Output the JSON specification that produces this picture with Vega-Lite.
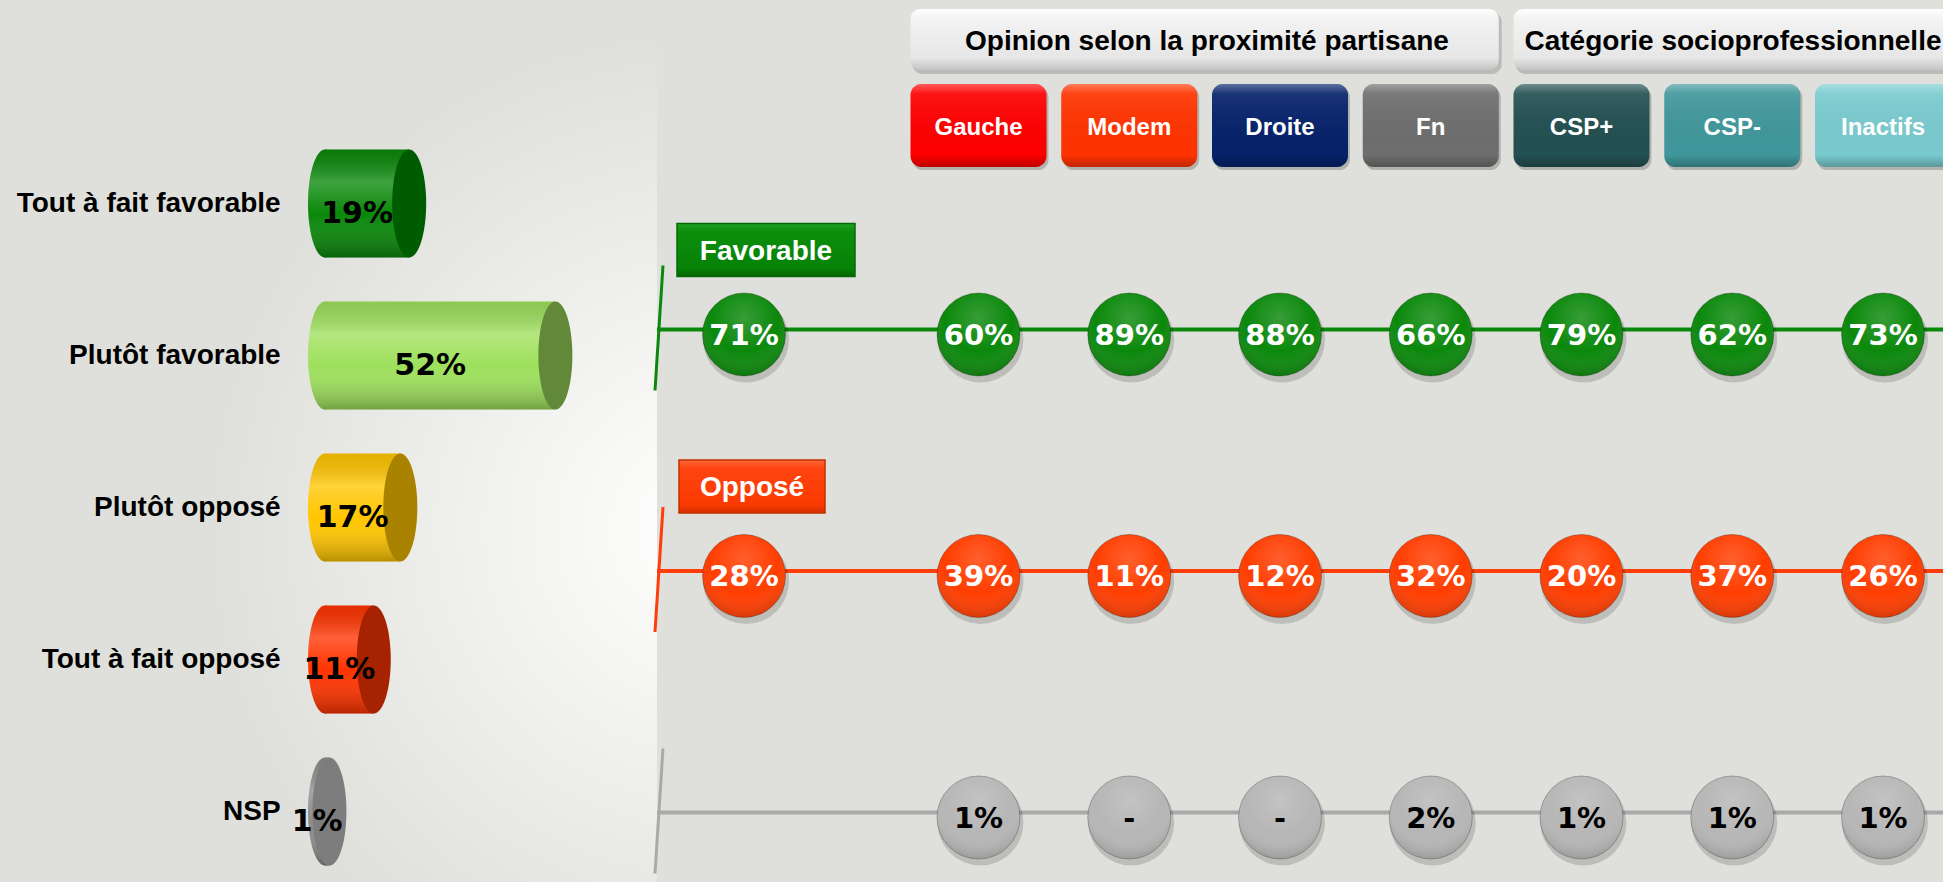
{
  "$schema": "https://vega.github.io/schema/vega-lite/v6.json",
  "background": "#dfe0db",
  "padding": 0,
  "spacing": 0,
  "bounds": "flush",
  "resolve": {"scale": {"fill": "independent", "stroke": "independent", "color": "independent"}},
  "config": {
    "view": {"stroke": null},
    "axis": {"disable": true},
    "legend": {"disable": true},
    "concat": {"spacing": 0}
  },
  "datasets": {
    "gauche": [
      {"reponse": "Tout à fait favorable", "valeur": 0.19},
      {"reponse": "Plutôt favorable", "valeur": 0.52},
      {"reponse": "Plutôt opposé", "valeur": 0.17},
      {"reponse": "Tout à fait opposé", "valeur": 0.11},
      {"reponse": "NSP", "valeur": 0.01}
    ],
    "colonnes": [
      {"colonne": "Gauche"}, {"colonne": "Modem"}, {"colonne": "Droite"}, {"colonne": "Fn"},
      {"colonne": "CSP+"}, {"colonne": "CSP-"}, {"colonne": "Inactifs"}
    ],
    "groupes": [
      {"groupe": "Opinion selon la proximité partisane", "de": "Gauche", "a": "Fn"},
      {"groupe": "Catégorie socioprofessionnelle", "de": "CSP+", "a": "Inactifs"}
    ],
    "series": [{"serie": "Favorable"}, {"serie": "Opposé"}, {"serie": "NSP"}],
    "bulles": [
      {"serie": "Favorable", "colonne": "Ensemble", "valeur": 0.71},
      {"serie": "Favorable", "colonne": "Gauche", "valeur": 0.60},
      {"serie": "Favorable", "colonne": "Modem", "valeur": 0.89},
      {"serie": "Favorable", "colonne": "Droite", "valeur": 0.88},
      {"serie": "Favorable", "colonne": "Fn", "valeur": 0.66},
      {"serie": "Favorable", "colonne": "CSP+", "valeur": 0.79},
      {"serie": "Favorable", "colonne": "CSP-", "valeur": 0.62},
      {"serie": "Favorable", "colonne": "Inactifs", "valeur": 0.73},
      {"serie": "Opposé", "colonne": "Ensemble", "valeur": 0.28},
      {"serie": "Opposé", "colonne": "Gauche", "valeur": 0.39},
      {"serie": "Opposé", "colonne": "Modem", "valeur": 0.11},
      {"serie": "Opposé", "colonne": "Droite", "valeur": 0.12},
      {"serie": "Opposé", "colonne": "Fn", "valeur": 0.32},
      {"serie": "Opposé", "colonne": "CSP+", "valeur": 0.20},
      {"serie": "Opposé", "colonne": "CSP-", "valeur": 0.37},
      {"serie": "Opposé", "colonne": "Inactifs", "valeur": 0.26},
      {"serie": "NSP", "colonne": "Gauche", "valeur": 0.01},
      {"serie": "NSP", "colonne": "Modem", "valeur": null},
      {"serie": "NSP", "colonne": "Droite", "valeur": null},
      {"serie": "NSP", "colonne": "Fn", "valeur": 0.02},
      {"serie": "NSP", "colonne": "CSP+", "valeur": 0.01},
      {"serie": "NSP", "colonne": "CSP-", "valeur": 0.01},
      {"serie": "NSP", "colonne": "Inactifs", "valeur": 0.01}
    ]
  },
  "hconcat": [
    {
      "width": 657,
      "height": 882,
      "view": {
        "stroke": null,
        "fill": {"gradient": "radial", "x1": 0.93, "y1": 0.6, "r1": 0, "x2": 0.93, "y2": 0.6, "r2": 0.56,
          "stops": [{"offset": 0, "color": "#ffffff"}, {"offset": 0.3, "color": "#f6f6f4"}, {"offset": 1, "color": "#dfe0db"}]}
      },
      "data": {"name": "gauche"},
      "resolve": {"scale": {"x": "independent"}},
      "layer": [
        {
          "resolve": {"scale": {"fill": "independent"}},
          "encoding": {
            "y": {"field": "reponse", "type": "nominal", "scale": {"type": "point", "domain": ["Tout à fait favorable", "Plutôt favorable", "Plutôt opposé", "Tout à fait opposé", "NSP"], "range": [203.5, 811.5], "padding": 0}}
          },
          "layer": [
            {
              "mark": {"type": "text", "align": "right", "baseline": "middle", "font": "Liberation Sans", "fontWeight": "bold", "fontSize": 28, "color": "#000000"},
              "encoding": {
                "x": {"datum": -0.10, "type": "quantitative", "scale": {"domain": [0, 1], "range": [325, 768], "nice": false, "zero": false}},
                "text": {"field": "reponse"}
              }
            },
            {
              "mark": {"type": "point", "shape": "M0,-1C0.174,-1,0.315,-0.552,0.315,0C0.315,0.552,0.174,1,0,1C-0.174,1,-0.315,0.552,-0.315,0C-0.315,-0.552,-0.174,-1,0,-1Z", "size": 11664, "filled": true, "opacity": 1, "strokeWidth": 0},
              "encoding": {
                "x": {"datum": 0, "type": "quantitative", "scale": {"domain": [0, 1], "range": [325, 768], "nice": false, "zero": false}},
                "fill": {"field": "reponse", "type": "nominal", "scale": {"domain": ["Tout à fait favorable", "Plutôt favorable", "Plutôt opposé", "Tout à fait opposé", "NSP"], "range": ["#0a880a", "#9ee05c", "#ffc600", "#ff3300", "#8c8c8c"]}}
              }
            },
            {
              "mark": {"type": "point", "shape": "M0,-1C0.174,-1,0.315,-0.552,0.315,0C0.315,0.552,0.174,1,0,1C-0.174,1,-0.315,0.552,-0.315,0C-0.315,-0.552,-0.174,-1,0,-1Z", "size": 11664, "filled": true, "opacity": 1, "strokeWidth": 0,
                "fill": {"gradient": "linear", "x1": 0, "y1": 0, "x2": 0, "y2": 1, "stops": [{"offset": 0, "color": "rgba(0,0,0,0.10)"}, {"offset": 0.3, "color": "rgba(255,255,255,0.22)"}, {"offset": 0.6, "color": "rgba(255,255,255,0)"}, {"offset": 1, "color": "rgba(0,0,0,0.28)"}]}},
              "encoding": {
                "x": {"datum": 0, "type": "quantitative", "scale": {"domain": [0, 1], "range": [325, 768], "nice": false, "zero": false}}
              }
            },
            {
              "mark": {"type": "bar", "size": 108, "opacity": 1},
              "encoding": {
                "x": {"field": "valeur", "type": "quantitative", "scale": {"domain": [0, 1], "range": [325, 768], "nice": false, "zero": false}},
                "x2": {"datum": 0},
                "fill": {"field": "reponse", "type": "nominal", "scale": {"domain": ["Tout à fait favorable", "Plutôt favorable", "Plutôt opposé", "Tout à fait opposé", "NSP"], "range": ["#0a880a", "#9ee05c", "#ffc600", "#ff3300", "#8c8c8c"]}}
              }
            },
            {
              "mark": {"type": "bar", "size": 108, "opacity": 1,
                "fill": {"gradient": "linear", "x1": 0, "y1": 0, "x2": 0, "y2": 1, "stops": [{"offset": 0, "color": "rgba(0,0,0,0.10)"}, {"offset": 0.3, "color": "rgba(255,255,255,0.22)"}, {"offset": 0.6, "color": "rgba(255,255,255,0)"}, {"offset": 1, "color": "rgba(0,0,0,0.28)"}]}},
              "encoding": {
                "x": {"field": "valeur", "type": "quantitative", "scale": {"domain": [0, 1], "range": [325, 768], "nice": false, "zero": false}},
                "x2": {"datum": 0}
              }
            },
            {
              "mark": {"type": "point", "shape": "M0,-1C0.174,-1,0.315,-0.552,0.315,0C0.315,0.552,0.174,1,0,1C-0.174,1,-0.315,0.552,-0.315,0C-0.315,-0.552,-0.174,-1,0,-1Z", "size": 11664, "filled": true, "opacity": 1, "strokeWidth": 0},
              "encoding": {
                "x": {"field": "valeur", "type": "quantitative", "scale": {"domain": [0, 1], "range": [325, 768], "nice": false, "zero": false}},
                "fill": {"field": "reponse", "type": "nominal", "scale": {"domain": ["Tout à fait favorable", "Plutôt favorable", "Plutôt opposé", "Tout à fait opposé", "NSP"], "range": ["#005c00", "#62893a", "#a98300", "#a62200", "#7d7d7d"]}}
              }
            }
          ]
        },
        {
          "mark": {"type": "text", "font": "DejaVu Sans", "fontWeight": "bold", "fontSize": 30, "align": "center", "baseline": "middle", "dx": -10, "dy": 10, "color": "#000000"},
          "encoding": {
            "x": {"field": "valeur", "type": "quantitative", "scale": {"domain": [0, 2], "range": [325, 768], "nice": false, "zero": false}},
            "y": {"field": "reponse", "type": "nominal", "scale": {"type": "point", "domain": ["Tout à fait favorable", "Plutôt favorable", "Plutôt opposé", "Tout à fait opposé", "NSP"], "range": [203.5, 811.5], "padding": 0}},
            "text": {"field": "valeur", "format": ".0%"}
          }
        }
      ]
    },
    {
      "spacing": 0,
      "bounds": "flush",
      "resolve": {"scale": {"fill": "independent", "stroke": "independent", "color": "independent"}},
      "vconcat": [
        {
          "width": 1286,
          "height": 170,
          "resolve": {"scale": {"x": "independent"}},
          "layer": [
            {
              "layer": [
                {
                  "data": {"name": "groupes"},
                  "mark": {"type": "rect", "clip": true, "cornerRadius": 10, "fill": "rgba(0,0,0,0.16)", "xOffset": -66, "x2Offset": 71, "yOffset": -28, "y2Offset": 34},
                  "encoding": {
                    "x": {"field": "de", "type": "nominal", "scale": {"type": "point", "domain": ["Gauche", "Modem", "Droite", "Fn", "CSP+", "CSP-", "Inactifs"], "range": [321.5, 1226], "padding": 0}},
                    "x2": {"field": "a"},
                    "y": {"datum": "groupe", "type": "nominal", "scale": {"type": "point", "domain": ["groupe", "colonne"], "range": [40, 125.5], "padding": 0}},
                    "y2": {"datum": "groupe"}
                  }
                },
                {
                  "data": {"name": "groupes"},
                  "mark": {"type": "rect", "clip": true, "cornerRadius": 10, "xOffset": -68, "x2Offset": 68, "yOffset": -31, "y2Offset": 30,
                    "fill": {"gradient": "linear", "x1": 0, "y1": 0, "x2": 0, "y2": 1, "stops": [{"offset": 0, "color": "#ffffff"}, {"offset": 0.15, "color": "#f3f3f3"}, {"offset": 0.8, "color": "#e6e6e6"}, {"offset": 1, "color": "#c4c4c4"}]}},
                  "encoding": {
                    "x": {"field": "de", "type": "nominal", "scale": {"type": "point", "domain": ["Gauche", "Modem", "Droite", "Fn", "CSP+", "CSP-", "Inactifs"], "range": [321.5, 1226], "padding": 0}},
                    "x2": {"field": "a"},
                    "y": {"datum": "groupe", "type": "nominal", "scale": {"type": "point", "domain": ["groupe", "colonne"], "range": [40, 125.5], "padding": 0}},
                    "y2": {"datum": "groupe"}
                  }
                },
                {
                  "data": {"name": "colonnes"},
                  "mark": {"type": "rect", "clip": true, "cornerRadius": 11, "fill": "rgba(0,0,0,0.2)", "xOffset": -66, "x2Offset": 70, "yOffset": -39, "y2Offset": 45},
                  "encoding": {
                    "x": {"field": "colonne", "type": "nominal", "scale": {"type": "point", "domain": ["Gauche", "Modem", "Droite", "Fn", "CSP+", "CSP-", "Inactifs"], "range": [321.5, 1226], "padding": 0}},
                    "x2": {"field": "colonne"},
                    "y": {"datum": "colonne", "type": "nominal", "scale": {"type": "point", "domain": ["groupe", "colonne"], "range": [40, 125.5], "padding": 0}},
                    "y2": {"datum": "colonne"}
                  }
                },
                {
                  "data": {"name": "colonnes"},
                  "mark": {"type": "rect", "clip": true, "cornerRadius": 11, "opacity": 1, "xOffset": -68, "x2Offset": 68, "yOffset": -41.5, "y2Offset": 41.5},
                  "encoding": {
                    "x": {"field": "colonne", "type": "nominal", "scale": {"type": "point", "domain": ["Gauche", "Modem", "Droite", "Fn", "CSP+", "CSP-", "Inactifs"], "range": [321.5, 1226], "padding": 0}},
                    "x2": {"field": "colonne"},
                    "y": {"datum": "colonne", "type": "nominal", "scale": {"type": "point", "domain": ["groupe", "colonne"], "range": [40, 125.5], "padding": 0}},
                    "y2": {"datum": "colonne"},
                    "fill": {"field": "colonne", "type": "nominal", "scale": {"domain": ["Gauche", "Modem", "Droite", "Fn", "CSP+", "CSP-", "Inactifs"], "range": ["#fe0000", "#ff3300", "#06226a", "#6e6e6e", "#235052", "#40979b", "#79cbcf"]}}
                  }
                },
                {
                  "data": {"name": "colonnes"},
                  "mark": {"type": "rect", "clip": true, "cornerRadius": 11, "xOffset": -68, "x2Offset": 68, "yOffset": -41.5, "y2Offset": 41.5,
                    "fill": {"gradient": "linear", "x1": 0, "y1": 0, "x2": 0, "y2": 1, "stops": [{"offset": 0, "color": "rgba(255,255,255,0.35)"}, {"offset": 0.12, "color": "rgba(255,255,255,0.08)"}, {"offset": 0.85, "color": "rgba(0,0,0,0)"}, {"offset": 1, "color": "rgba(0,0,0,0.25)"}]}},
                  "encoding": {
                    "x": {"field": "colonne", "type": "nominal", "scale": {"type": "point", "domain": ["Gauche", "Modem", "Droite", "Fn", "CSP+", "CSP-", "Inactifs"], "range": [321.5, 1226], "padding": 0}},
                    "x2": {"field": "colonne"},
                    "y": {"datum": "colonne", "type": "nominal", "scale": {"type": "point", "domain": ["groupe", "colonne"], "range": [40, 125.5], "padding": 0}},
                    "y2": {"datum": "colonne"}
                  }
                },
                {
                  "data": {"name": "colonnes"},
                  "mark": {"type": "text", "font": "Liberation Sans", "fontWeight": "bold", "fontSize": 24, "color": "#ffffff", "align": "center", "baseline": "middle", "dy": 2},
                  "encoding": {
                    "x": {"field": "colonne", "type": "nominal", "scale": {"type": "point", "domain": ["Gauche", "Modem", "Droite", "Fn", "CSP+", "CSP-", "Inactifs"], "range": [321.5, 1226], "padding": 0}},
                    "y": {"datum": "colonne", "type": "nominal", "scale": {"type": "point", "domain": ["groupe", "colonne"], "range": [40, 125.5], "padding": 0}},
                    "text": {"field": "colonne"}
                  }
                }
              ]
            },
            {
              "data": {"name": "groupes"},
              "mark": {"type": "text", "font": "Liberation Sans", "fontWeight": "bold", "fontSize": 28, "color": "#000000", "align": "center", "baseline": "middle", "dy": 2},
              "encoding": {
                "x": {"field": "groupe", "type": "nominal", "scale": {"type": "point", "domain": ["Opinion selon la proximité partisane", "Catégorie socioprofessionnelle"], "range": [550, 1076], "padding": 0}},
                "y": {"datum": "groupe", "type": "nominal", "scale": {"type": "point", "domain": ["groupe", "colonne"], "range": [40, 125.5], "padding": 0}},
                "text": {"field": "groupe"}
              }
            }
          ]
        },
        {
          "width": 1286,
          "height": 712,
          "resolve": {"scale": {"x": "independent"}},
          "layer": [
            {
              "data": {"name": "series"},
              "mark": {"type": "rule", "strokeWidth": 4, "yOffset": -5},
              "encoding": {
                "y": {"field": "serie", "type": "nominal", "scale": {"type": "point", "domain": ["Favorable", "Opposé", "NSP"], "range": [164.5, 647.5], "padding": 0}},
                "stroke": {"field": "serie", "type": "nominal", "scale": {"domain": ["Favorable", "Opposé", "NSP"], "range": ["#0b880b", "#ff3d0a", "#a9a9a9"]}}
              }
            },
            {
              "data": {"name": "bulles"},
              "transform": [{"filter": "datum.colonne !== 'Ensemble'"}],
              "encoding": {
                "x": {"field": "colonne", "type": "nominal", "scale": {"type": "point", "domain": ["Gauche", "Modem", "Droite", "Fn", "CSP+", "CSP-", "Inactifs"], "range": [321.5, 1226], "padding": 0}},
                "y": {"field": "serie", "type": "nominal", "scale": {"type": "point", "domain": ["Favorable", "Opposé", "NSP"], "range": [164.5, 647.5], "padding": 0}}
              },
              "layer": [
                {"mark": {"type": "circle", "size": 7400, "opacity": 1, "fill": "rgba(0,0,0,0.15)", "yOffset": 5, "xOffset": 2}},
                {
                  "mark": {"type": "circle", "size": 6889, "opacity": 1, "stroke": "rgba(0,0,0,0.25)", "strokeWidth": 1},
                  "encoding": {"fill": {"field": "serie", "type": "nominal", "scale": {"domain": ["Favorable", "Opposé", "NSP"], "range": ["#0b880b", "#ff3d00", "#b6b6b6"]}}}
                },
                {
                  "mark": {"type": "circle", "size": 6889, "opacity": 1,
                    "fill": {"gradient": "radial", "x1": 0.5, "y1": 0.3, "r1": 0, "x2": 0.5, "y2": 0.3, "r2": 0.75, "stops": [{"offset": 0, "color": "rgba(255,255,255,0.18)"}, {"offset": 0.55, "color": "rgba(255,255,255,0)"}, {"offset": 1, "color": "rgba(0,0,0,0.22)"}]}}
                },
                {
                  "mark": {"type": "text", "font": "DejaVu Sans", "fontWeight": "bold", "fontSize": 29, "align": "center", "baseline": "middle", "dy": 1},
                  "encoding": {
                    "text": {"field": "valeur", "format": ".0%", "condition": {"test": "datum.valeur === null", "value": "-"}},
                    "color": {"condition": {"test": "datum.serie === 'NSP'", "value": "#000000"}, "value": "#ffffff"}
                  }
                }
              ]
            },
            {
              "layer": [
                {
                  "data": {"name": "series"},
                  "mark": {"type": "rule", "strokeWidth": 3, "xOffset": -81, "x2Offset": -89, "yOffset": -69, "y2Offset": 56},
                  "encoding": {
                    "x": {"datum": "Ensemble", "type": "nominal", "scale": {"type": "point", "domain": ["Ensemble"], "range": [0, 174], "padding": 0}},
                    "x2": {"datum": "Ensemble"},
                    "y": {"field": "serie", "type": "nominal", "scale": {"type": "point", "domain": ["Favorable", "Opposé", "NSP"], "range": [164.5, 647.5], "padding": 0}},
                    "y2": {"field": "serie"},
                    "stroke": {"field": "serie", "type": "nominal", "scale": {"domain": ["Favorable", "Opposé", "NSP"], "range": ["#0b880b", "#ff3d0a", "#a9a9a9"]}}
                  }
                },
                {
                  "data": {"name": "series"},
                  "transform": [{"filter": "datum.serie === 'Favorable'"}],
                  "mark": {"type": "rect", "stroke": "#056a05", "strokeWidth": 1.5, "xOffset": -67, "x2Offset": 111, "yOffset": -111, "y2Offset": -58,
                    "fill": {"gradient": "linear", "x1": 0, "y1": 0, "x2": 0, "y2": 1, "stops": [{"offset": 0, "color": "#22a022"}, {"offset": 0.15, "color": "#0c8e0c"}, {"offset": 0.85, "color": "#078207"}, {"offset": 1, "color": "#046604"}]}},
                  "encoding": {
                    "x": {"datum": "Ensemble", "type": "nominal", "scale": {"type": "point", "domain": ["Ensemble"], "range": [0, 174], "padding": 0}},
                    "x2": {"datum": "Ensemble"},
                    "y": {"field": "serie", "type": "nominal", "scale": {"type": "point", "domain": ["Favorable", "Opposé", "NSP"], "range": [164.5, 647.5], "padding": 0}},
                    "y2": {"field": "serie"}
                  }
                },
                {
                  "data": {"name": "series"},
                  "transform": [{"filter": "datum.serie === 'Favorable'"}],
                  "mark": {"type": "text", "font": "Liberation Sans", "fontWeight": "bold", "fontSize": 28, "color": "#ffffff", "align": "center", "baseline": "middle", "dx": 22, "dy": -83},
                  "encoding": {
                    "x": {"datum": "Ensemble", "type": "nominal", "scale": {"type": "point", "domain": ["Ensemble"], "range": [0, 174], "padding": 0}},
                    "y": {"field": "serie", "type": "nominal", "scale": {"type": "point", "domain": ["Favorable", "Opposé", "NSP"], "range": [164.5, 647.5], "padding": 0}},
                    "text": {"field": "serie"}
                  }
                },
                {
                  "data": {"name": "series"},
                  "transform": [{"filter": "datum.serie === 'Opposé'"}],
                  "mark": {"type": "rect", "stroke": "#c43000", "strokeWidth": 1.5, "xOffset": -65, "x2Offset": 81, "yOffset": -116, "y2Offset": -63,
                    "fill": {"gradient": "linear", "x1": 0, "y1": 0, "x2": 0, "y2": 1, "stops": [{"offset": 0, "color": "#ff6a3a"}, {"offset": 0.15, "color": "#ff4410"}, {"offset": 0.85, "color": "#fa3a00"}, {"offset": 1, "color": "#d02e00"}]}},
                  "encoding": {
                    "x": {"datum": "Ensemble", "type": "nominal", "scale": {"type": "point", "domain": ["Ensemble"], "range": [0, 174], "padding": 0}},
                    "x2": {"datum": "Ensemble"},
                    "y": {"field": "serie", "type": "nominal", "scale": {"type": "point", "domain": ["Favorable", "Opposé", "NSP"], "range": [164.5, 647.5], "padding": 0}},
                    "y2": {"field": "serie"}
                  }
                },
                {
                  "data": {"name": "series"},
                  "transform": [{"filter": "datum.serie === 'Opposé'"}],
                  "mark": {"type": "text", "font": "Liberation Sans", "fontWeight": "bold", "fontSize": 28, "color": "#ffffff", "align": "center", "baseline": "middle", "dx": 8, "dy": -88},
                  "encoding": {
                    "x": {"datum": "Ensemble", "type": "nominal", "scale": {"type": "point", "domain": ["Ensemble"], "range": [0, 174], "padding": 0}},
                    "y": {"field": "serie", "type": "nominal", "scale": {"type": "point", "domain": ["Favorable", "Opposé", "NSP"], "range": [164.5, 647.5], "padding": 0}},
                    "text": {"field": "serie"}
                  }
                },
                {
                  "data": {"name": "bulles"},
                  "transform": [{"filter": "datum.colonne === 'Ensemble'"}],
                  "encoding": {
                    "x": {"field": "colonne", "type": "nominal", "scale": {"type": "point", "domain": ["Ensemble"], "range": [0, 174], "padding": 0}},
                    "y": {"field": "serie", "type": "nominal", "scale": {"type": "point", "domain": ["Favorable", "Opposé", "NSP"], "range": [164.5, 647.5], "padding": 0}}
                  },
                  "layer": [
                    {"mark": {"type": "circle", "size": 7400, "opacity": 1, "fill": "rgba(0,0,0,0.15)", "yOffset": 5, "xOffset": 2}},
                    {
                      "mark": {"type": "circle", "size": 6889, "opacity": 1, "stroke": "rgba(0,0,0,0.25)", "strokeWidth": 1},
                      "encoding": {"fill": {"field": "serie", "type": "nominal", "scale": {"domain": ["Favorable", "Opposé", "NSP"], "range": ["#0b880b", "#ff3d00", "#b6b6b6"]}}}
                    },
                    {
                      "mark": {"type": "circle", "size": 6889, "opacity": 1,
                        "fill": {"gradient": "radial", "x1": 0.5, "y1": 0.3, "r1": 0, "x2": 0.5, "y2": 0.3, "r2": 0.75, "stops": [{"offset": 0, "color": "rgba(255,255,255,0.18)"}, {"offset": 0.55, "color": "rgba(255,255,255,0)"}, {"offset": 1, "color": "rgba(0,0,0,0.22)"}]}}
                    },
                    {
                      "mark": {"type": "text", "font": "DejaVu Sans", "fontWeight": "bold", "fontSize": 29, "align": "center", "baseline": "middle", "dy": 1, "color": "#ffffff"},
                      "encoding": {"text": {"field": "valeur", "format": ".0%"}}
                    }
                  ]
                }
              ]
            }
          ]
        }
      ]
    }
  ]
}
